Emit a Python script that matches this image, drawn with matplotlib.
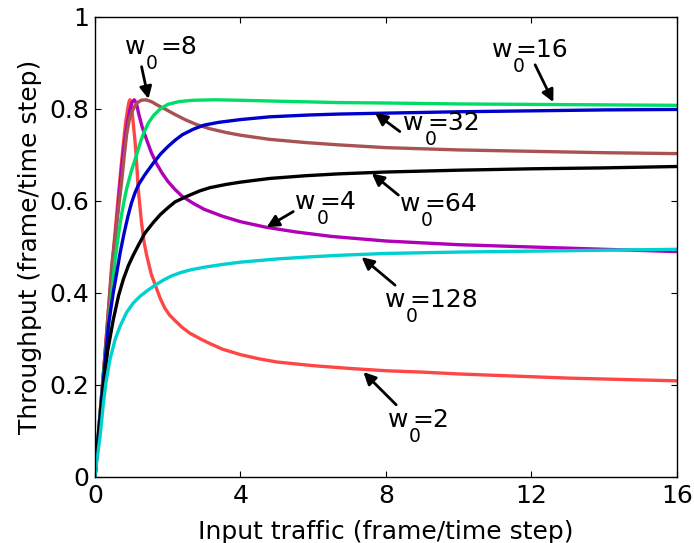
import matplotlib
matplotlib.use("Agg")
import matplotlib.pyplot as plt

plt.rcParams['font.family'] = ['DejaVu Sans']

# ---- data ----
x_w2 = [0, 0.1, 0.25, 0.47, 0.64, 0.73, 0.8, 0.85, 0.9, 0.93, 0.96, 0.99, 1.02, 1.05, 1.1, 1.13, 1.19,
        1.28, 1.35, 1.42, 1.55, 1.69, 1.8, 1.92, 2.05, 2.2, 2.4, 2.6, 2.9, 3.16, 3.5, 4, 4.5, 5, 6, 7,
        8, 9, 10, 11, 12, 13, 14, 15, 16]
y_w2 = [0, 0.1, 0.245, 0.46, 0.61, 0.685, 0.74, 0.775, 0.80, 0.814, 0.82, 0.815, 0.795, 0.77, 0.73, 0.70, 0.625,
        0.552, 0.51, 0.482, 0.44, 0.41, 0.387, 0.367, 0.352, 0.34, 0.325, 0.313, 0.30, 0.29, 0.278, 0.266, 0.257, 0.25, 0.242, 0.236,
        0.231, 0.228, 0.224, 0.221, 0.218, 0.215, 0.213, 0.211, 0.209]

x_w4 = [0, 0.1, 0.25, 0.5, 0.73, 0.8, 0.87, 0.95, 1.02, 1.08, 1.14, 1.2, 1.3, 1.42, 1.55, 1.7, 1.85,
        2.0, 2.2, 2.4, 2.7, 3.0, 3.5, 4, 4.7, 5.5, 6.5, 8, 10, 12, 14, 16]
y_w4 = [0, 0.1, 0.24, 0.47, 0.67, 0.72, 0.76, 0.795, 0.815, 0.82, 0.812, 0.79, 0.76, 0.733, 0.705, 0.68, 0.66,
        0.643, 0.625, 0.61, 0.595, 0.582, 0.567, 0.555, 0.543, 0.533, 0.523, 0.513, 0.505, 0.5, 0.495, 0.49]

x_w8 = [0, 0.1, 0.25, 0.46, 0.73, 0.8, 0.87, 0.95, 1.05, 1.15, 1.27, 1.4, 1.55, 1.75, 1.97, 2.2,
        2.5, 2.8, 3.16, 3.6, 4, 4.8, 5.8, 6.7, 8, 10, 12, 14, 16]
y_w8 = [0, 0.1, 0.24, 0.46, 0.64, 0.695, 0.745, 0.78, 0.80, 0.813, 0.819, 0.82, 0.816, 0.807, 0.798, 0.788,
        0.776, 0.766, 0.757, 0.749, 0.743, 0.734, 0.727, 0.722, 0.716, 0.711, 0.708, 0.705, 0.703]

x_w16 = [0, 0.1, 0.25, 0.55, 0.65, 0.73, 0.8, 0.87, 1.0, 1.14, 1.25, 1.35, 1.47, 1.6, 1.79, 2.0,
         2.3, 2.7, 3.3, 4, 5, 6.7, 8, 10, 12, 14, 16]
y_w16 = [0, 0.1, 0.235, 0.47, 0.53, 0.57, 0.60, 0.627, 0.665, 0.70, 0.728, 0.75, 0.77, 0.785, 0.80, 0.81,
         0.816, 0.819, 0.82, 0.819, 0.817, 0.814, 0.813, 0.811, 0.81, 0.809, 0.808]

x_w32 = [0, 0.1, 0.2, 0.37, 0.5, 0.6, 0.69, 0.8, 0.9, 1.0, 1.1, 1.2, 1.37, 1.6, 1.8, 2.0,
         2.2, 2.4, 2.7, 3.0, 3.4, 4, 4.8, 5.9, 6.7, 8, 10, 12, 14, 16]
y_w32 = [0, 0.095, 0.185, 0.33, 0.40, 0.445, 0.487, 0.53, 0.565, 0.595, 0.618, 0.636, 0.657, 0.682, 0.702, 0.718,
         0.732, 0.744, 0.756, 0.765, 0.771, 0.777, 0.783, 0.787, 0.789, 0.791, 0.794, 0.796, 0.798, 0.799]

x_w64 = [0, 0.1, 0.23, 0.35, 0.5, 0.65, 0.78, 0.92, 1.05, 1.2, 1.37, 1.6, 1.79, 2.0, 2.2, 2.52,
         2.88, 3.16, 3.6, 4, 4.8, 5.8, 6.7, 8, 10, 12, 14, 16]
y_w64 = [0, 0.095, 0.2, 0.275, 0.341, 0.395, 0.43, 0.46, 0.482, 0.505, 0.53, 0.553, 0.57, 0.585, 0.598, 0.61,
         0.622, 0.629, 0.636, 0.641, 0.649, 0.655, 0.659, 0.663, 0.667, 0.67, 0.672, 0.675]

x_w128 = [0, 0.05, 0.14, 0.23, 0.3, 0.41, 0.55, 0.69, 0.87, 1.05, 1.24, 1.42, 1.65, 1.88, 2.1, 2.34,
          2.61, 3.0, 3.5, 4, 5, 6, 6.73, 8, 10, 12, 14, 16]
y_w128 = [0, 0.035, 0.088, 0.16, 0.205, 0.255, 0.298, 0.328, 0.358, 0.378, 0.393, 0.404, 0.417, 0.428, 0.437, 0.444,
          0.45, 0.456, 0.462, 0.467, 0.474, 0.479, 0.482, 0.486, 0.489, 0.491, 0.493, 0.495]

series = [
    (x_w2, y_w2, '#ff4646'),
    (x_w4, y_w4, '#b000b8'),
    (x_w8, y_w8, '#a85252'),
    (x_w16, y_w16, '#00dd66'),
    (x_w32, y_w32, '#0000cc'),
    (x_w64, y_w64, '#000000'),
    (x_w128, y_w128, '#00d0d0'),
]

x_ticks = [0, 4, 8, 12, 16]
y_ticks = [0, 0.2, 0.4, 0.6, 0.8, 1]
y_tick_labels = ['0', '0.2', '0.4', '0.6', '0.8', '1']

# label value, text anchor, arrow tail, arrow tip (data coordinates)
labels = [
    ('8',   (0.82, 0.919), (1.28, 0.892), (1.47, 0.822)),
    ('16',  (10.9, 0.914), (12.1, 0.896), (12.6, 0.815)),
    ('32',  (8.47, 0.754), (8.38, 0.751), (7.7, 0.791)),
    ('64',  (8.38, 0.579), (8.34, 0.613), (7.61, 0.66)),
    ('4',   (5.5, 0.582), (5.45, 0.577), (4.72, 0.543)),
    ('128', (7.97, 0.370), (8.25, 0.417), (7.33, 0.478)),
    ('2',   (8.05, 0.109), (8.28, 0.157), (7.38, 0.228)),
]

FS = 18
DPI = 100
fig = plt.figure(figsize=(6.94, 5.43), dpi=DPI)
ax = fig.add_axes([95/694, 66/543, 582/694, 460/543])

for xs, ys, c in series:
    ax.plot(xs, ys, color=c, lw=2.4, solid_capstyle='round', solid_joinstyle='round')

renderer = fig.canvas.get_renderer()


def w_label(x, y, val):
    t1 = ax.text(x, y, 'w', fontsize=FS, ha='left', va='baseline')
    w1 = t1.get_window_extent(renderer).width * 72 / DPI
    t2 = ax.annotate('0', xy=(x, y), xytext=(w1 + 0.5, -10.8), textcoords='offset points',
                     fontsize=FS * 0.75, ha='left', va='baseline')
    w2 = t2.get_window_extent(renderer).width * 72 / DPI
    ax.annotate('=' + val, xy=(x, y), xytext=(w1 + w2 + 2.0, 0), textcoords='offset points',
                fontsize=FS, ha='left', va='baseline')


for val, tpos, tail, tip in labels:
    w_label(tpos[0], tpos[1], val)
    ax.annotate('', xy=tip, xytext=tail,
                arrowprops=dict(arrowstyle='-|>', color='k', lw=2.0, mutation_scale=18,
                                shrinkA=0, shrinkB=0))

ax.set_xlim(0, 16)
ax.set_ylim(0, 1)
ax.set_xticks(x_ticks)
ax.set_xticklabels([str(t) for t in x_ticks])
ax.set_yticks(y_ticks)
ax.set_yticklabels(y_tick_labels)
ax.tick_params(direction='in', length=4, width=0.8, top=True, right=True, labelsize=FS)
ax.tick_params(axis='y', pad=4)
ax.tick_params(axis='x', pad=5)
for s in ax.spines.values():
    s.set_linewidth(1.0)

fig.text((95 + 582/2)/694, 4/543, 'Input traffic (frame/time step)', fontsize=FS,
         ha='center', va='baseline')
fig.text(30/694, (543 - 247)/543, 'Throughput (frame/time step)', fontsize=FS,
         ha='center', va='center', rotation=90)

fig.savefig('out.png', dpi=DPI)
